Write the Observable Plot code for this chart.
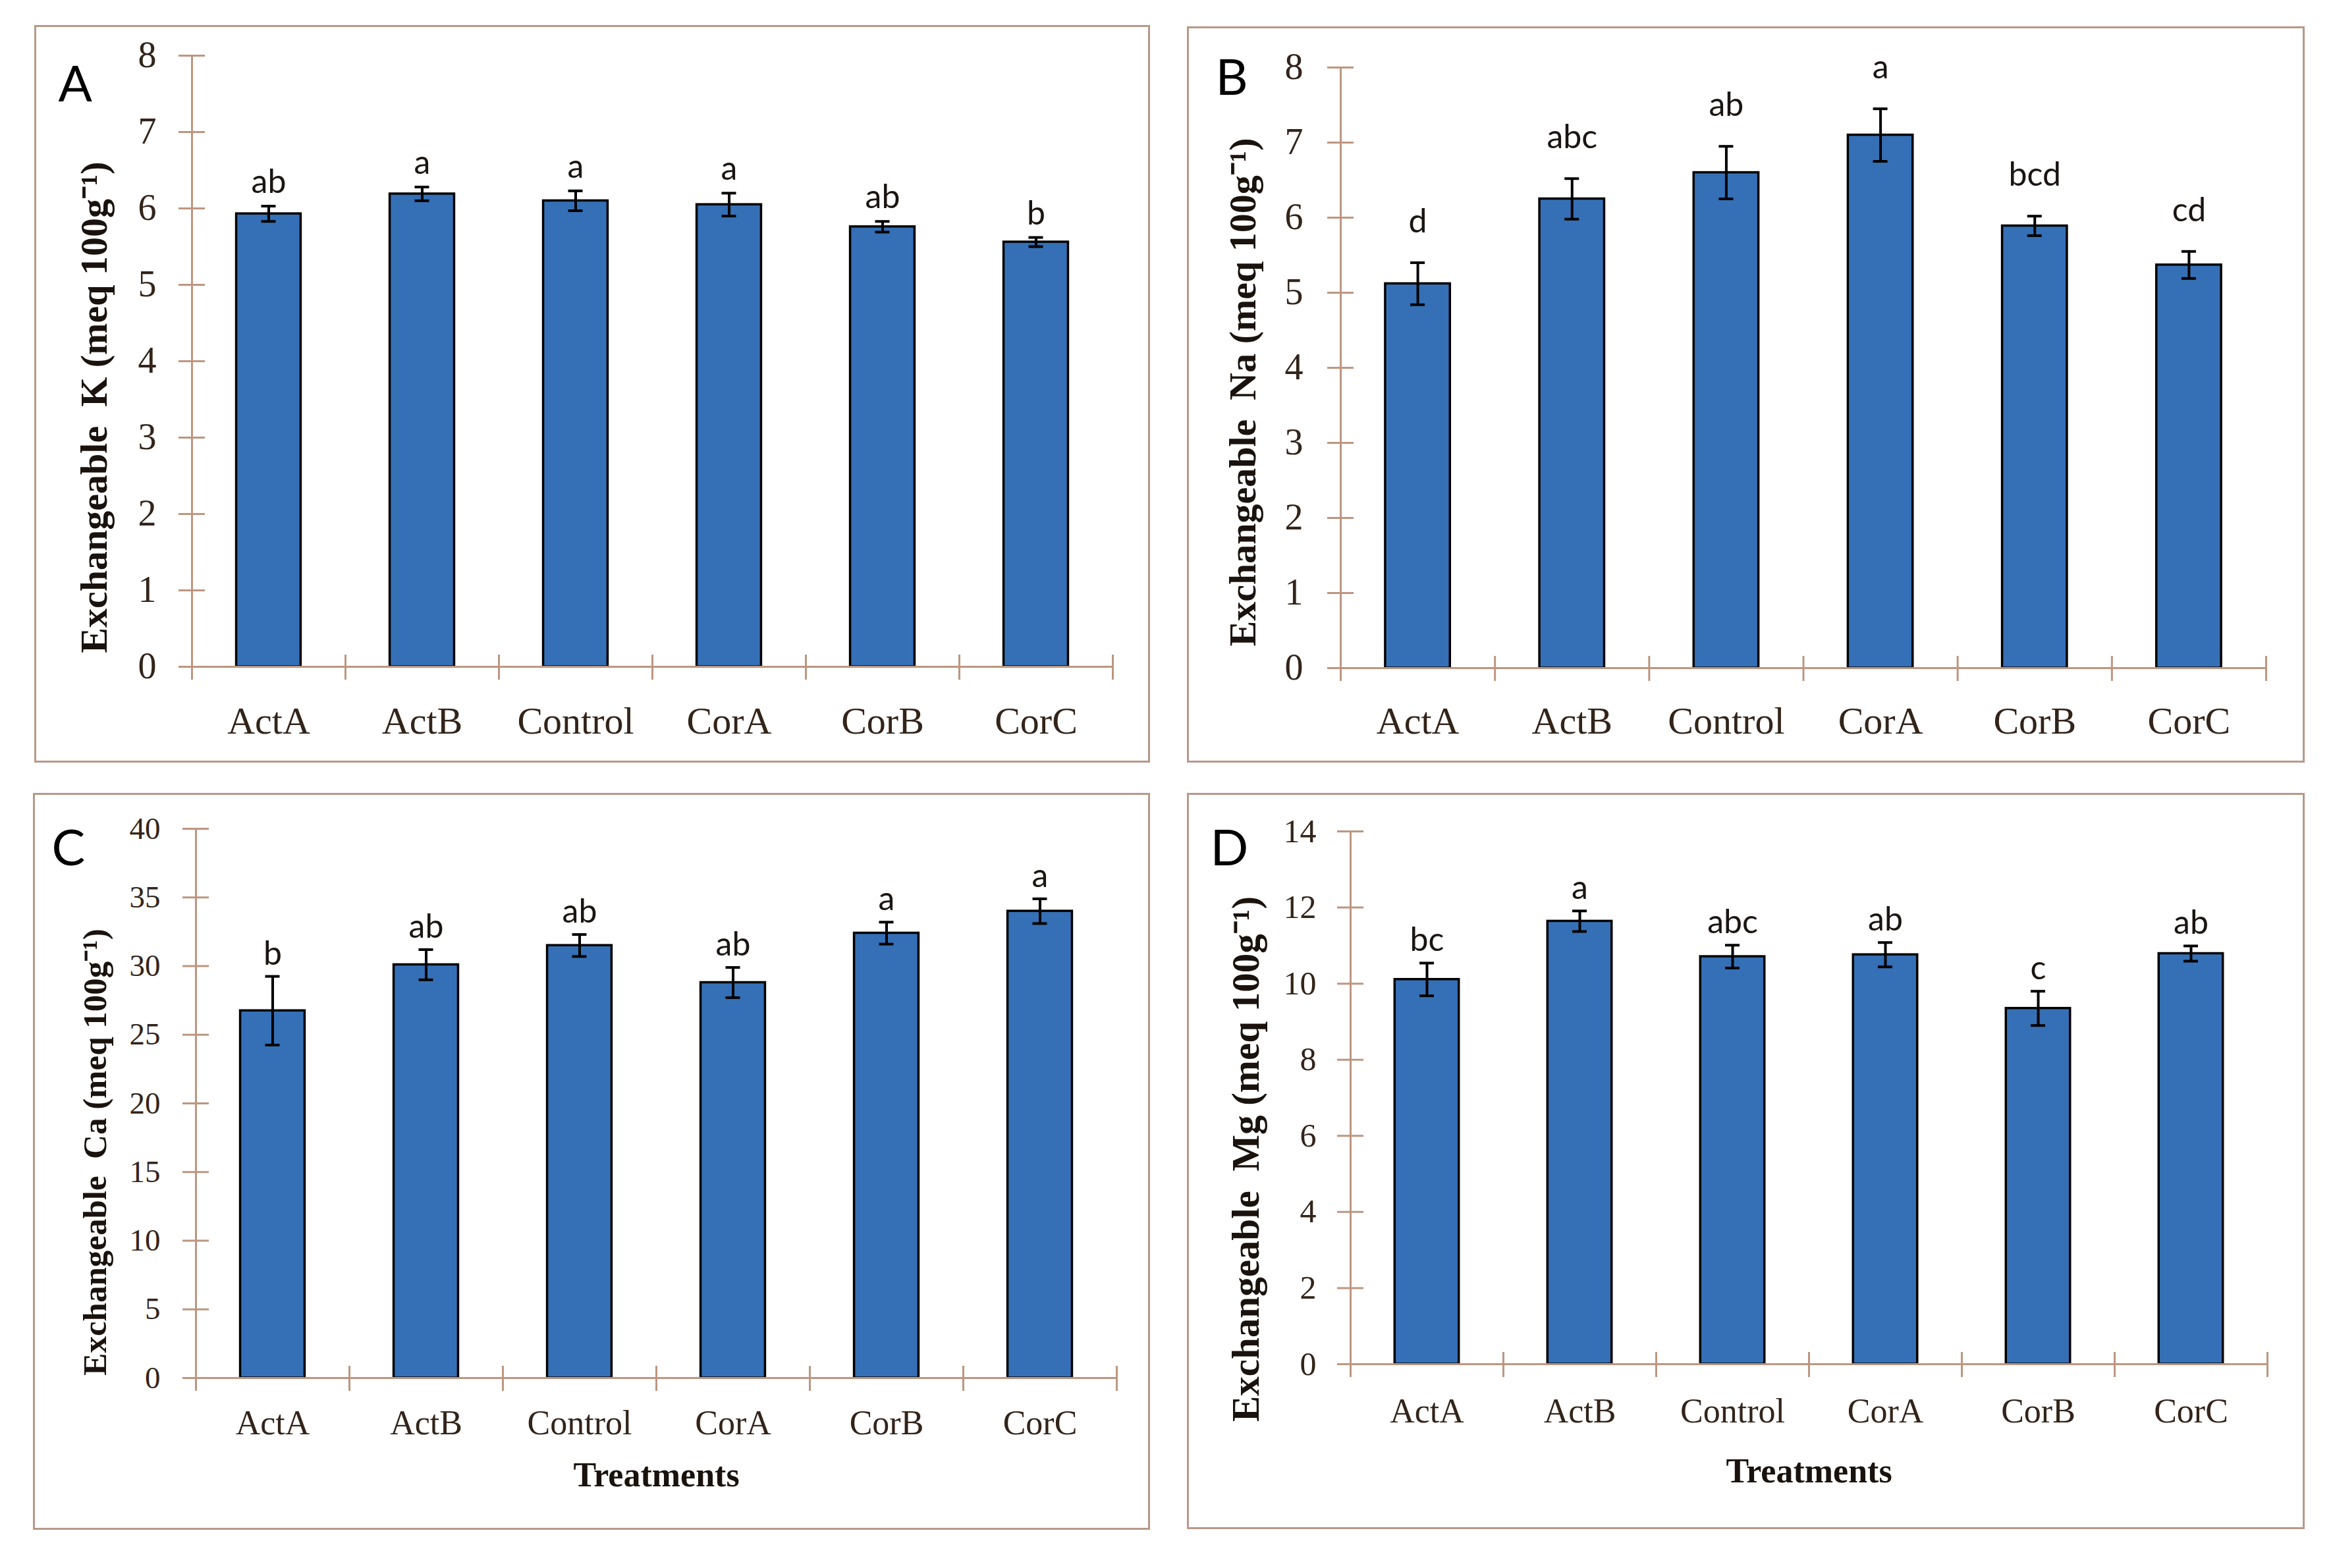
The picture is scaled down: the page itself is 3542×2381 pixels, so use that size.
<!DOCTYPE html>
<html><head><meta charset="utf-8">
<script src="https://cdn.jsdelivr.net/npm/d3@7"></script>
<script src="https://cdn.jsdelivr.net/npm/@observablehq/plot@0.6"></script>
<style>
html,body{margin:0;padding:0;background:#fff;}
#page{position:relative;width:3542px;height:2381px;background:#fff;overflow:hidden;}
.panel{position:absolute;}
.panel svg{display:block;max-width:none;}
.panel svg text{white-space:pre;}
.border{position:absolute;left:0;top:0;right:0;bottom:0;border:3px solid #b8988a;box-sizing:border-box;pointer-events:none;}
</style></head><body><div id="page"></div>
<script>
const treatments = ["ActA","ActB","Control","CorA","CorB","CorC"];

const kMean  = [5.93, 6.19, 6.10, 6.05, 5.76, 5.56];
const kErr   = [0.10, 0.09, 0.13, 0.15, 0.07, 0.06];
const kGroup = ["ab","a","a","a","ab","b"];

const naMean  = [5.12, 6.25, 6.60, 7.10, 5.89, 5.37];
const naErr   = [0.28, 0.27, 0.35, 0.35, 0.13, 0.18];
const naGroup = ["d","abc","ab","a","bcd","cd"];

const caMean  = [26.75, 30.1, 31.5, 28.8, 32.4, 34.0];
const caErr   = [2.5, 1.1, 0.8, 1.1, 0.8, 0.9];
const caGroup = ["b","ab","ab","ab","a","a"];

const mgMean  = [10.11, 11.64, 10.71, 10.76, 9.35, 10.79];
const mgErr   = [0.43, 0.27, 0.30, 0.32, 0.45, 0.20];
const mgGroup = ["bc","a","abc","ab","c","ab"];

const kTicks  = [0,1,2,3,4,5,6,7,8];
const naTicks = [0,1,2,3,4,5,6,7,8];
const caTicks = [0,5,10,15,20,25,30,35,40];
const mgTicks = [0,2,4,6,8,10,12,14];

const BAR = "#3570b6", AXIS = "#bd9680", TICKTXT = "#33241a", SERIF = "'Liberation Serif', serif", SANS = "Lato, 'Open Sans', sans-serif";

const panels = [
  {id:"A", mean:kMean, err:kErr, group:kGroup, ticks:kTicks, title:"Exchangeable  K (meq 100g⁻¹)", xTitle:null, gdy:-20,
   box:[52,38,1746,1158], ax:[291,1689], ay:[84,1012], tickFont:56, yPad:54, catFont:58, xPad:60, titleFont:58, tdx:-148, tdy:70, ldx:-203, ldy:69},
  {id:"B", mean:naMean, err:naErr, group:naGroup, ticks:naTicks, title:"Exchangeable  Na (meq 100g⁻¹)", xTitle:null, gdy:-46,
   box:[1802,40,3499,1158], ax:[2035,3440], ay:[102,1014], tickFont:56, yPad:57, catFont:58, xPad:58, titleFont:58, tdx:-148, tdy:37, ldx:-190, ldy:41},
  {id:"C", mean:caMean, err:caErr, group:caGroup, ticks:caTicks, title:"Exchangeable  Ca (meq 100g⁻¹)", xTitle:"Treatments", xtdy:164, gdy:-18,
   box:[50,1204,1746,2323], ax:[297,1695], ay:[1258,2092], tickFont:47, yPad:54, catFont:52, xPad:49, titleFont:51, tdx:-153, tdy:74, ldx:-219, ldy:55},
  {id:"D", mean:mgMean, err:mgErr, group:mgGroup, ticks:mgTicks, title:"Exchangeable  Mg (meq 100g⁻¹)", xTitle:"Treatments", xtdy:179, gdy:-18,
   box:[1802,1204,3499,2322], ax:[2050,3442], ay:[1262,2071], tickFont:50, yPad:52, catFont:52, xPad:52, titleFont:59, tdx:-158, tdy:93, ldx:-213, ldy:51}
];

const page = document.getElementById("page");

for (const p of panels) {
  const [bx0, by0, bx1, by1] = p.box;
  const W = bx1 - bx0, H = by1 - by0;
  const mL = p.ax[0] - bx0, mR = bx1 - p.ax[1], mT = p.ay[0] - by0, mB = by1 - p.ay[1];
  const plotW = p.ax[1] - p.ax[0], plotH = p.ay[1] - p.ay[0];
  const padInner = 0.58;
  const step = plotW / treatments.length;
  const bw = step * (1 - padInner);
  const capInset = (bw - 22) / 2;
  const data = treatments.map((t, i) => ({t, v: p.mean[i], e: p.err[i], g: p.group[i]}));
  const yMax = p.ticks[p.ticks.length - 1];

  const marks = [
    Plot.barY(data, {x: "t", y: "v", fill: BAR, stroke: "#000", strokeWidth: 3.5}),
    Plot.ruleY([0], {stroke: AXIS, strokeWidth: 3}),
    Plot.ruleX([treatments[0]], {x: d => d, dx: -step / 2, stroke: AXIS, strokeWidth: 3}),
    Plot.tickY(p.ticks, {y: d => d, stroke: AXIS, strokeWidth: 3, insetLeft: -20, insetRight: plotW - 20}),
    Plot.tickX(treatments, {x: d => d, dx: -step / 2, stroke: AXIS, strokeWidth: 3, insetTop: plotH - 18, insetBottom: -20}),
    Plot.tickX([treatments[treatments.length - 1]], {x: d => d, dx: step / 2, stroke: AXIS, strokeWidth: 3, insetTop: plotH - 18, insetBottom: -20}),
    Plot.ruleX(data, {x: "t", y1: d => d.v - d.e, y2: d => d.v + d.e, stroke: "#000", strokeWidth: 4}),
    Plot.tickY(data, {x: "t", y: d => d.v + d.e, stroke: "#000", strokeWidth: 4, inset: capInset}),
    Plot.tickY(data, {x: "t", y: d => d.v - d.e, stroke: "#000", strokeWidth: 4, inset: capInset}),
    Plot.text(data, {x: "t", y: d => d.v + d.e, text: "g", dy: p.gdy, lineAnchor: "bottom", fontFamily: SANS, fontSize: 50, fill: "#1a1512"}),
    Plot.axisY({ticks: p.ticks, tickSize: 0, tickPadding: p.yPad, fontSize: p.tickFont, fontFamily: SERIF, fill: TICKTXT, label: null}),
    Plot.axisX({tickSize: 0, tickPadding: p.xPad, fontSize: p.catFont, fontFamily: SERIF, fill: TICKTXT, label: null}),
    Plot.text([p.title], {frameAnchor: "left", text: d => d, rotate: -90, dx: p.tdx, dy: p.tdy, textAnchor: "middle", lineAnchor: "middle",
      fontSize: p.titleFont, fontFamily: SERIF, fontWeight: "bold", fill: "#1a120c"}),
    Plot.text([p.id], {frameAnchor: "top-left", text: d => d, dx: p.ldx, dy: p.ldy, textAnchor: "start", lineAnchor: "bottom",
      fontSize: 76, fontFamily: SANS, fill: "#000"})
  ];
  if (p.xTitle) {
    marks.push(Plot.text([p.xTitle], {frameAnchor: "bottom", text: d => d, dy: p.xtdy, lineAnchor: "bottom", textAnchor: "middle",
      fontSize: 52, fontFamily: SERIF, fontWeight: "bold", fill: "#1a120c"}));
  }

  const chart = Plot.plot({
    width: W, height: H,
    marginLeft: mL, marginRight: mR, marginTop: mT, marginBottom: mB,
    x: {type: "band", domain: treatments, paddingInner: padInner, paddingOuter: padInner / 2, round: false, label: null},
    y: {domain: [0, yMax], label: null},
    style: {background: "white", overflow: "visible"},
    marks
  });

  const div = document.createElement("div");
  div.className = "panel";
  div.style.left = bx0 + "px";
  div.style.top = by0 + "px";
  div.style.width = W + "px";
  div.style.height = H + "px";
  div.appendChild(chart);
  const border = document.createElement("div");
  border.className = "border";
  div.appendChild(border);
  page.appendChild(div);
}
</script>
</body></html>
